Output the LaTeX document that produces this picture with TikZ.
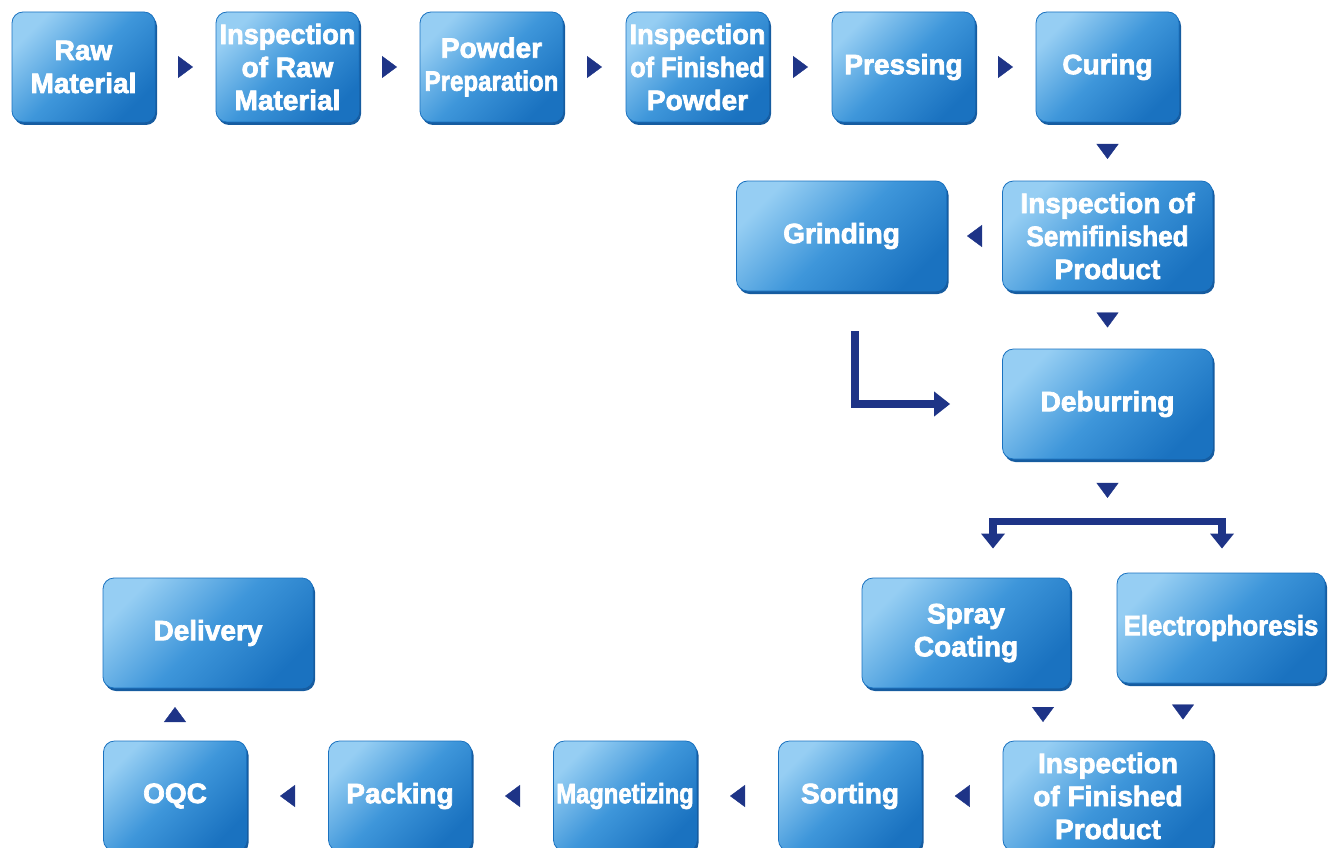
\documentclass[tikz,border=0pt]{standalone}
\usepackage{fontspec}
\usepackage{graphicx}
\newfontfamily\boxfont{Liberation Sans Bold}[FakeBold=2.5]
\usetikzlibrary{shadows,arrows.meta,decorations.markings,calc}
\definecolor{boxlight}{RGB}{150,206,243}
\definecolor{boxmid}{RGB}{62,150,218}
\definecolor{boxdark}{RGB}{26,114,192}
\definecolor{boxedge}{RGB}{22,92,160}
\definecolor{navy}{RGB}{30,52,135}
\newcommand{\sq}[2]{\scalebox{#1}[1]{#2}}
\begin{document}
\begin{tikzpicture}[x=1pt,y=-1pt,
  box/.style={rounded corners=11pt, minimum width=143pt, minimum height=110pt,
    inner sep=0pt, align=center, text=white,
    font=\boxfont\fontsize{28}{33}\selectfont,
    left color=boxlight, right color=boxdark, middle color=boxmid, shading angle=45,
    draw=boxdark, line width=0.8pt,
    drop shadow={shadow xshift=2pt, shadow yshift=-3pt, fill=boxedge, opacity=1}},
  wide/.style={box, minimum width=210pt},
  tri/.style={postaction={decorate}, decoration={markings,
    mark=at position 0.5 with {\pgftransformxshift{7.5pt}\arrow{Triangle[length=15pt,width=22pt,color=navy]}}}},
  bent/.style={draw=navy, line width=7.5pt, line join=miter, line cap=butt}
]
\useasboundingbox (0,0) rectangle (1328,848);
\clip (0,0) rectangle (1328,848);
% top row
\node[box] (raw) at (83.5,67) {Raw\\Material};
\node[box] (insraw) at (287.5,67) {\sq{0.97}{Inspection}\\of Raw\\Material};
\node[box] (powder) at (491.5,67) {Powder\\\sq{0.86}{Preparation}};
\node[box] (inspow) at (697.5,67) {\sq{0.97}{Inspection}\\\sq{0.9}{of Finished}\\Powder};
\node[box] (press) at (903.5,67) {Pressing};
\node[box] (cure) at (1107.5,67) {Curing};
% middle
\node[wide] (inssemi) at (1107.5,236) {Inspection of\\\sq{0.93}{Semifinished}\\Product};
\node[wide] (grind) at (841.5,236) {Grinding};
\node[wide] (deb) at (1107.5,404) {Deburring};
\node[wide, minimum width=208pt] (spray) at (966,633) {Spray\\Coating};
\node[wide, minimum width=208pt] (elec) at (1221,628) {\sq{0.92}{Electrophoresis}};
\node[wide] (deliv) at (208,633) {Delivery};
% bottom row
\node[wide] (ifp) at (1108,796) {Inspection\\of Finished\\Product};
\node[box] (sort) at (850,796) {Sorting};
\node[box] (mag) at (625,796) {\sq{0.85}{Magnetizing}};
\node[box] (pack) at (400,796) {Packing};
\node[box] (oqc) at (175,796) {OQC};

% triangle connectors
\path[tri] (raw) -- (insraw);
\path[tri] (insraw) -- (powder);
\path[tri] (powder) -- (inspow);
\path[tri] (inspow) -- (press);
\path[tri] (press) -- (cure);
\path[tri] (cure) -- (inssemi);
\path[tri] (inssemi) -- (grind);
\path[tri] (inssemi) -- (deb);
\coordinate (split) at ($(deb.south)+(0,62)$);
\path[tri] (deb.south) -- (split);
\coordinate (s1) at ($(spray.south)+(77,0)$);
\coordinate (e1) at ($(elec.south)+(-38,0)$);
\path[tri] (s1) -- (s1 |- ifp.north);
\path[tri] (e1) -- (e1 |- ifp.north);
\path[tri] (ifp) -- (sort);
\path[tri] (sort) -- (mag);
\path[tri] (mag) -- (pack);
\path[tri] (pack) -- (oqc);
\path[tri] (oqc.north) -- (oqc.north |- deliv.south);

% bent arrows
\coordinate (g1) at ($(grind.south)+(13.5,40)$);
\coordinate (g2) at ($(deb.west)+(-52,0)$);
\draw[bent, -{Triangle[length=16pt,width=24pt]}] (g1) |- (g2);
\coordinate (sl) at ($(spray.north)+(27,-29)$);
\coordinate (sr) at ($(elec.north)+(1,-24)$);
\draw[bent, {Triangle[length=15pt,width=23pt]}-{Triangle[length=15pt,width=23pt]}] (sl) |- (split) -| (sr);
\end{tikzpicture}
\end{document}
